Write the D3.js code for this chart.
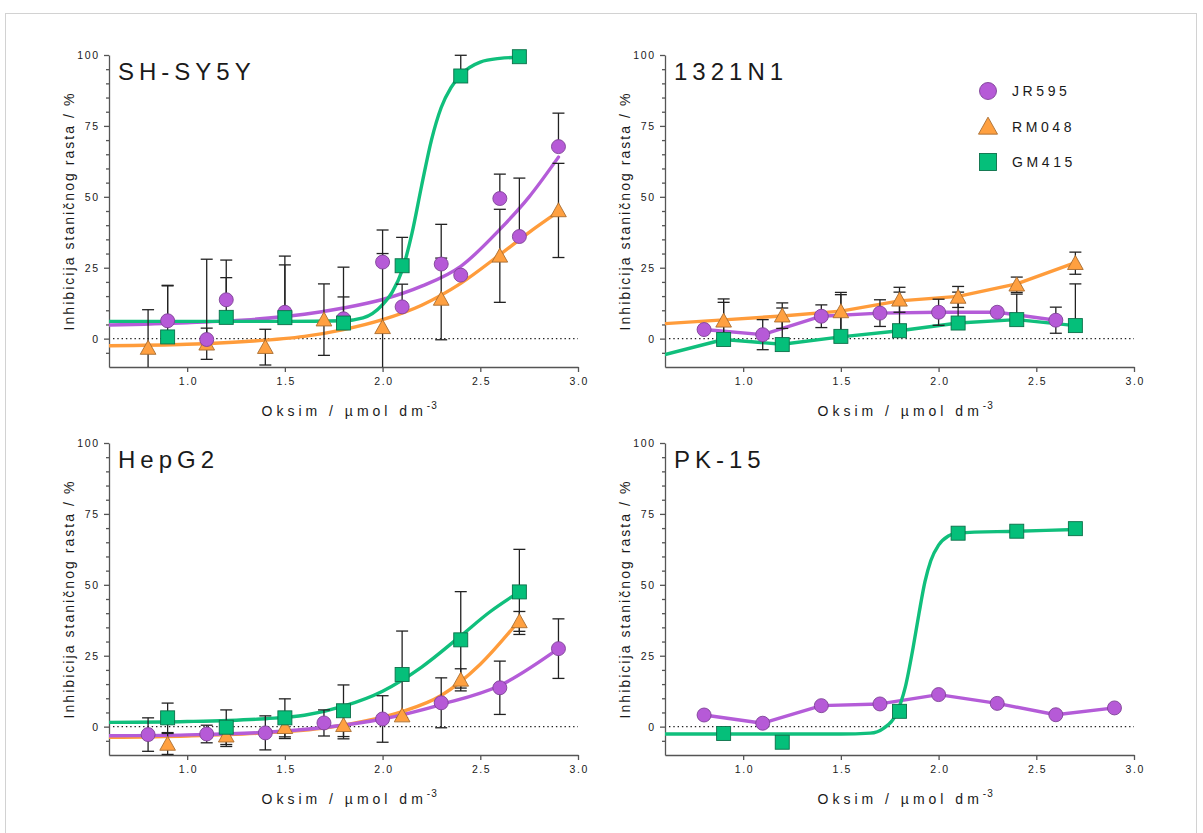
<!DOCTYPE html>
<html><head><meta charset="utf-8">
<script src="https://cdn.jsdelivr.net/npm/d3@7"></script>
<style>
body{margin:0;background:#fff;}
svg{display:block;}
text{font-family:"Liberation Sans",Arial,sans-serif;fill:#1a1a1a;}
</style>
</head><body>
<svg id="c" width="1203" height="833"></svg>
<script>
// ---------------- DATA ----------------
const panelNames = ["SH-SY5Y", "1321N1", "HepG2", "PK-15"];
const seriesNames = ["JR595", "RM048", "GM415"];
const xTicks = [1.0, 1.5, 2.0, 2.5, 3.0];
const yTicks = [0, 25, 50, 75, 100];
const yMinorTicks = [-5, 5, 10, 15, 20, 30, 35, 40, 45, 55, 60, 65, 70, 80, 85, 90, 95];
const xDomain = [0.6, 3.0];
const yDomain = [-10, 100];

// points: [log conc, mean inhibition %, SD]
const sh_JR595 = [[0.9,6.3,12.5],[1.1,-0.3,28.3],[1.2,13.7,14],[1.5,9.3,19.8],[1.8,7.0,18.2],[2.0,27.0,11.3],[2.1,11.2,8],[2.3,26.3,14],[2.4,22.4,0],[2.6,49.4,8.6],[2.7,36.0,20.6],[2.9,67.7,11.8]];
const sh_RM048 = [[0.8,-3.3,13.5],[1.1,-1.8,5.5],[1.4,-3.0,6.3],[1.7,6.7,12.6],[2.0,4.0,26],[2.3,14.0,14.4],[2.6,29.2,16.4],[2.9,45.2,16.6]];
const sh_GM415 = [[0.9,0.6,18],[1.2,7.5,14],[1.5,7.4,18.6],[1.8,5.5,9.2],[2.1,25.7,10],[2.4,92.6,7.3],[2.7,99.4,0]];
// fitted curves: [log conc, %]
const sh_JR595_fit = [[0.6,4.8],[1.0,5.6],[1.3,6.6],[1.6,8.6],[1.8,10.8],[2.0,13.8],[2.2,18.5],[2.4,25.5],[2.6,38.5],[2.75,50],[2.9,64]];
const sh_RM048_fit = [[0.6,-2.5],[1.0,-2.0],[1.3,-1.0],[1.6,0.8],[1.8,3.2],[2.0,6.7],[2.2,11.8],[2.4,19.5],[2.6,29.6],[2.75,37.5],[2.9,44.8]];
const sh_GM415_fit = [[0.6,6.1],[1.0,6.1],[1.5,6.1],[1.8,6.3],[1.9,7.3],[2.0,12],[2.05,16.5],[2.1,24],[2.15,37],[2.2,54],[2.25,70],[2.3,81.5],[2.35,88.5],[2.4,93],[2.5,97.5],[2.6,98.8],[2.7,99.2]];

const n1_JR595 = [[0.8,3.2,0],[1.1,1.4,5.3],[1.4,7.9,4],[1.7,9.0,4.7],[2.0,9.3,4.6],[2.3,9.3,0],[2.6,6.5,4.6]];
const n1_RM048 = [[0.9,6.3,7.7],[1.2,8.1,4.5],[1.5,9.6,6.7],[1.8,13.7,4.4],[2.1,14.7,3.7],[2.4,19.0,2.7],[2.7,26.6,3.9]];
const n1_GM415 = [[0.9,-0.3,13.1],[1.2,-2.1,12.9],[1.5,0.8,14.7],[1.8,2.8,13.6],[2.1,5.5,10.9],[2.4,6.7,9],[2.7,4.6,14.7]];
const n1_JR595_fit = [[0.8,3.2],[1.1,1.4],[1.4,7.9],[1.7,9.0],[2.0,9.3],[2.3,9.3],[2.6,6.5]];
const n1_RM048_fit = [[0.6,5.3],[0.9,6.6],[1.2,8.0],[1.5,9.7],[1.8,13.3],[2.1,14.9],[2.4,19.3],[2.7,26.8]];
const n1_GM415_fit = [[0.6,-5.6],[0.9,-0.3],[1.2,-2.0],[1.5,0.6],[1.8,2.8],[2.1,5.5],[2.4,6.7],[2.7,4.6]];

const hep_JR595 = [[0.8,-2.8,5.9],[1.1,-2.6,3.1],[1.4,-2.2,6],[1.7,1.3,4.6],[2.0,2.7,8.2],[2.3,8.4,8.8],[2.6,13.7,9.4],[2.9,27.5,10.5]];
const hep_RM048 = [[0.9,-6.1,3.7],[1.2,-3.2,3.8],[1.5,-0.2,4],[1.8,0.5,4.8],[2.1,3.9,0],[2.4,16.5,3.9],[2.7,37.1,3.5]];
const hep_GM415 = [[0.9,3.1,5.2],[1.2,-0.2,6.1],[1.5,3.1,6.7],[1.8,5.6,9.1],[2.1,18.4,15.3],[2.4,30.6,17],[2.7,47.5,15]];
const hep_JR595_fit = [[0.6,-3.2],[1.0,-2.9],[1.4,-2.0],[1.7,-0.3],[2.0,2.7],[2.3,7.8],[2.6,14.5],[2.9,27.5]];
const hep_RM048_fit = [[0.6,-3.8],[1.0,-3.3],[1.4,-2.2],[1.7,-0.5],[1.9,1.8],[2.1,5.3],[2.3,11],[2.5,22],[2.7,37.5]];
const hep_GM415_fit = [[0.6,1.5],[1.0,1.8],[1.4,2.8],[1.6,4],[1.8,7.2],[2.0,12.5],[2.2,21],[2.4,32],[2.55,40.5],[2.7,47.5]];

const pk_JR595 = [[0.8,4.1,0],[1.1,1.2,0],[1.4,7.4,0],[1.7,8.0,0],[2.0,11.3,0],[2.3,8.2,0],[2.6,4.2,0],[2.9,6.6,0]];
const pk_GM415 = [[0.9,-2.4,0],[1.2,-5.5,0],[1.8,5.4,0],[2.1,68.2,0],[2.4,68.9,0],[2.7,69.8,0]];
const pk_JR595_fit = [[0.8,4.1],[1.1,1.2],[1.4,7.4],[1.7,8.0],[2.0,11.3],[2.3,8.2],[2.6,4.2],[2.9,6.6]];
const pk_GM415_fit = [[0.6,-2.6],[1.5,-2.6],[1.65,-2.3],[1.72,-0.5],[1.78,4],[1.83,14],[1.87,28],[1.9,40],[1.93,51],[1.96,58.5],[2.0,64],[2.05,67.2],[2.1,68.3],[2.4,68.9],[2.7,69.5]];

// ---------------- STYLE ----------------
const style = {
  JR595: {fill:"#B65AD7", stroke:"#7E4296", line:"#B45CD8", shape:"circle"},
  RM048: {fill:"#FFA040", stroke:"#A86C30", line:"#FF9C3B", shape:"triangle"},
  GM415: {fill:"#05BF7A", stroke:"#0C7049", line:"#10BF7C", shape:"square"}
};

const panels = [
  {name:panelNames[0], left:109, top:55, series:[
    {key:"RM048", pts:sh_RM048, fit:sh_RM048_fit, err:"both", smooth:true},
    {key:"JR595", pts:sh_JR595, fit:sh_JR595_fit, err:"up", smooth:true},
    {key:"GM415", pts:sh_GM415, fit:sh_GM415_fit, err:"up", smooth:true}]},
  {name:panelNames[1], left:665, top:55, legend:true, series:[
    {key:"RM048", pts:n1_RM048, fit:n1_RM048_fit, err:"both", smooth:false},
    {key:"JR595", pts:n1_JR595, fit:n1_JR595_fit, err:"both", smooth:false},
    {key:"GM415", pts:n1_GM415, fit:n1_GM415_fit, err:"up", smooth:false}]},
  {name:panelNames[2], left:109, top:443, series:[
    {key:"RM048", pts:hep_RM048, fit:hep_RM048_fit, err:"both", smooth:true},
    {key:"JR595", pts:hep_JR595, fit:hep_JR595_fit, err:"both", smooth:true},
    {key:"GM415", pts:hep_GM415, fit:hep_GM415_fit, err:"both", smooth:true}]},
  {name:panelNames[3], left:665, top:443, series:[
    {key:"JR595", pts:pk_JR595, fit:pk_JR595_fit, err:"none", smooth:false},
    {key:"GM415", pts:pk_GM415, fit:pk_GM415_fit, err:"none", smooth:true}]}
];

const PW = 469, PH = 312;
const svg = d3.select("#c");
svg.append("rect").attr("x",5.5).attr("y",13.5).attr("width",1191).attr("height",830)
  .attr("fill","none").attr("stroke","#d2d2d2").attr("stroke-width",1);

function marker(g, shape, cx, cy, s, st) {
  if (shape === "circle") {
    g.append("circle").attr("cx",cx).attr("cy",cy).attr("r",s/2)
      .attr("fill",st.fill).attr("stroke",st.stroke).attr("stroke-width",0.9);
  } else if (shape === "square") {
    g.append("rect").attr("x",cx-s/2).attr("y",cy-s/2).attr("width",s).attr("height",s)
      .attr("fill",st.fill).attr("stroke",st.stroke).attr("stroke-width",0.9);
  } else {
    const w = s*1.12, h = s*1.0;
    g.append("path").attr("d",`M${cx},${cy-h*0.55}L${cx+w/2},${cy+h*0.45}L${cx-w/2},${cy+h*0.45}Z`)
      .attr("fill",st.fill).attr("stroke",st.stroke).attr("stroke-width",0.9);
  }
}

panels.forEach((p, pi) => {
  const x = d3.scaleLinear().domain(xDomain).range([p.left, p.left+PW]);
  const y = d3.scaleLinear().domain(yDomain).range([p.top+PH, p.top]);
  const g = svg.append("g");
  const clipId = "clip"+pi;
  svg.append("clipPath").attr("id",clipId).append("rect")
    .attr("x",p.left).attr("y",p.top-2).attr("width",PW+2).attr("height",PH+2);

  // zero reference line
  g.append("line").attr("x1",p.left+4).attr("x2",p.left+PW).attr("y1",y(0)).attr("y2",y(0))
    .attr("stroke","#222").attr("stroke-width",1.4).attr("stroke-dasharray","1.4,2.9");

  // axes
  const ax = g.append("g").attr("transform",`translate(0,${p.top+PH})`)
    .call(d3.axisBottom(x).tickValues(xTicks).tickFormat(d3.format(".1f")).tickSize(5).tickSizeOuter(0).tickPadding(6));
  const ay = g.append("g").attr("transform",`translate(${p.left},0)`)
    .call(d3.axisLeft(y).tickValues(yTicks).tickSize(5).tickSizeOuter(0).tickPadding(6));
  const aym = g.append("g").attr("transform",`translate(${p.left},0)`)
    .call(d3.axisLeft(y).tickValues(yMinorTicks).tickSize(3).tickFormat(""));
  aym.select(".domain").remove();
  [ax, ay, aym].forEach(a => {
    a.selectAll("path,line").attr("stroke","#555").attr("stroke-width",1.3);
    a.selectAll("text").attr("font-size",10.5).attr("letter-spacing","1.6px")
      .attr("fill","#222").style("font-family",'"Liberation Sans",Arial,sans-serif');
  });
  ay.selectAll("text").attr("dx","1.6");
  ax.selectAll("text").attr("dx","0.8");

  // axis titles
  g.append("text").attr("transform",`translate(${p.left-35},${p.top+PH/2}) rotate(-90)`)
    .attr("text-anchor","middle").attr("font-size",14).attr("letter-spacing","2.05px")
    .text("Inhibicija staničnog rasta / %");
  const xt = g.append("text").attr("x",p.left+PW/2-82).attr("y",p.top+PH+49)
    .attr("font-size",14).attr("letter-spacing","4px");
  xt.append("tspan").text("Oksim / µmol dm");
  xt.append("tspan").attr("dy",-7).attr("font-size",10).attr("letter-spacing","1px").text("-3");

  // panel title
  g.append("text").attr("x",p.left+9).attr("y",p.top+25).attr("font-size",24)
    .attr("letter-spacing","5px").attr("fill","#111").text(p.name);

  const plot = g.append("g").attr("clip-path",`url(#${clipId})`);
  // fitted lines
  p.series.forEach(s => {
    const line = d3.line().x(d => x(d[0])).y(d => y(d[1]))
      .curve(s.smooth ? d3.curveMonotoneX : d3.curveLinear);
    plot.append("path").attr("d",line(s.fit)).attr("fill","none")
      .attr("stroke",style[s.key].line).attr("stroke-width",3.4)
      .attr("stroke-linejoin","round").attr("stroke-linecap","round");
  });
  // error bars
  p.series.forEach(s => {
    if (s.err === "none") return;
    s.pts.forEach(d => {
      if (!d[2]) return;
      const hi = d[1] + d[2];
      const lo = s.err === "both" ? d[1] - d[2] : d[1];
      const hiC = Math.min(hi, yDomain[1]), loC = Math.max(lo, yDomain[0]);
      const cx = x(d[0]);
      g.append("line").attr("x1",cx).attr("x2",cx).attr("y1",y(hiC)).attr("y2",y(loC))
        .attr("stroke","#222").attr("stroke-width",1.3);
      if (hi <= yDomain[1]) g.append("line").attr("x1",cx-6).attr("x2",cx+6)
        .attr("y1",y(hi)).attr("y2",y(hi)).attr("stroke","#222").attr("stroke-width",1.3);
      if (s.err === "both" && lo >= yDomain[0]) g.append("line").attr("x1",cx-6).attr("x2",cx+6)
        .attr("y1",y(lo)).attr("y2",y(lo)).attr("stroke","#222").attr("stroke-width",1.3);
    });
  });
  // markers
  p.series.forEach(s => {
    const st = style[s.key];
    s.pts.forEach(d => marker(g, st.shape, x(d[0]), y(d[1]), 14, st));
  });

  // legend
  if (p.legend) {
    seriesNames.forEach((k, i) => {
      const cy = 91 + i*35.5;
      marker(g, style[k].shape, 988, cy, 17, style[k]);
      g.append("text").attr("x",1012).attr("y",cy+5).attr("font-size",14)
        .attr("letter-spacing","3.6px").attr("fill","#111").text(k);
    });
  }
});
</script>
</body></html>
